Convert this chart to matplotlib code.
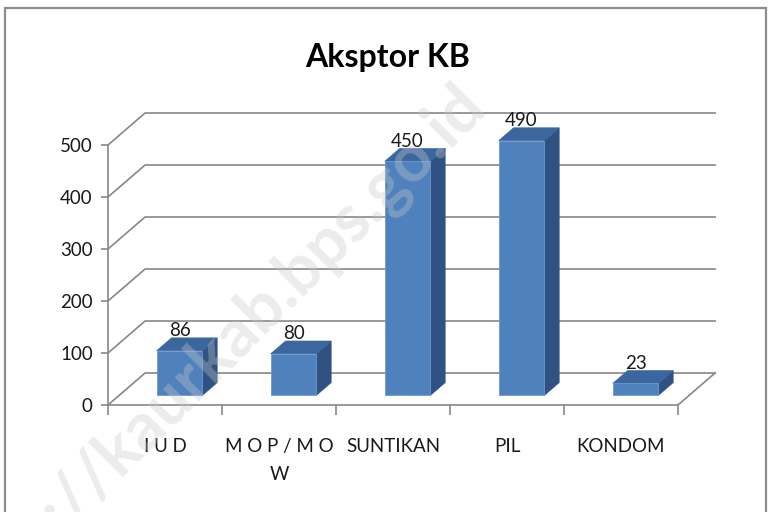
import matplotlib.pyplot as plt
from matplotlib.patches import Polygon, Rectangle

plt.rcParams['font.family'] = ['Lato', 'DejaVu Sans']

# data
kategori = ['I U D', 'M O P / M O\nW', 'SUNTIKAN', 'PIL', 'KONDOM']
jumlah = [86, 80, 450, 490, 23]
yticks = [0, 100, 200, 300, 400, 500]

# pseudo 3D settings (depth offset in data units)
DX, DY = 0.325, 61.5
D0, D1 = 0.30, 0.70
LEBAR = 0.4
GRIS = '#878787'
C_DEPAN, C_ATAS, C_SAMPING = '#4F81BD', '#3C679E', '#2F5282'


def proj(x, y, d):
    return (x + DX * d, y + DY * d)


fig = plt.figure(figsize=(7.7, 5.12), dpi=100)
ax = fig.add_axes([108 / 770, (512 - 405) / 512, 5.4 * 114 / 770, 580 * 0.52 / 512])
ax.set_xlim(0, 5.4)
ax.set_ylim(0, 580)
ax.patch.set_visible(False)

n = len(kategori)

# back wall gridlines + floor
for v in yticks:
    ax.plot([0, DX, n + DX], [v, v + DY, v + DY], color=GRIS, lw=1.2, zorder=1)
ax.plot([n, n + DX], [0, DY], color=GRIS, lw=1.2, zorder=1)

# bars
for i, v in enumerate(jumlah):
    x0 = i + 0.53 - LEBAR / 2
    x1 = i + 0.53 + LEBAR / 2
    depan = [proj(x0, 0, D0), proj(x1, 0, D0), proj(x1, v, D0), proj(x0, v, D0)]
    samping = [proj(x1, 0, D0), proj(x1, 0, D1), proj(x1, v, D1), proj(x1, v, D0)]
    atas = [proj(x0, v, D0), proj(x1, v, D0), proj(x1, v, D1), proj(x0, v, D1)]
    ax.add_patch(Polygon(samping, closed=True, fc=C_SAMPING, ec=C_SAMPING, lw=0.5, zorder=3))
    ax.add_patch(Polygon(atas, closed=True, fc=C_ATAS, ec=C_ATAS, lw=0.5, zorder=3))
    ax.add_patch(Polygon(depan, closed=True, fc=C_DEPAN, ec='#6E98CC', lw=0.6, zorder=4))
    tx, ty = proj(i + 0.53, v, D0)
    ax.text(tx, v + DY * D1 - 2, str(v), ha='center', va='bottom',
            fontsize=13.5, color='#1a1a1a', zorder=5)

# axes
for s in ['top', 'right']:
    ax.spines[s].set_visible(False)
ax.spines['left'].set_bounds(0, 500)
ax.spines['bottom'].set_bounds(0, n)
for s in ['left', 'bottom']:
    ax.spines[s].set_color(GRIS)
    ax.spines[s].set_linewidth(1.2)

ax.set_yticks(yticks)
ax.set_yticklabels([str(t) for t in yticks], fontsize=13.5, color='#1a1a1a')
ax.tick_params(axis='y', direction='out', length=5, width=1.2, color=GRIS, pad=6)

ax.set_xticks(range(n + 1))
ax.set_xticklabels([])
ax.tick_params(axis='x', which='major', direction='out', length=7, width=1.2, color=GRIS)
ax.set_xticks([i + 0.5 for i in range(n)], minor=True)
ax.set_xticklabels(kategori, minor=True, fontsize=13.5, color='#1a1a1a',
                   linespacing=1.75)
ax.tick_params(axis='x', which='minor', length=0, pad=24)

# title
fig.text(0.503, 1 - 57 / 512, 'Aksptor KB', ha='center', va='center',
         fontsize=23, fontweight='bold', color='black')

# chart border
fig.add_artist(Rectangle((5 / 770, -0.1), 761 / 770, (512 - 8) / 512 + 0.1,
                         transform=fig.transFigure, fill=False, ec='#8c8c8c', lw=1.6))

# watermark
fig.text(475 / 770, 1 - 95 / 512, 'http://kaurkab.bps.go.id', ha='right', va='center',
         rotation=45, rotation_mode='anchor', fontsize=48, fontweight='bold',
         color='#c8c8c8', alpha=0.35, zorder=10)

fig.savefig('out.png', dpi=100)
